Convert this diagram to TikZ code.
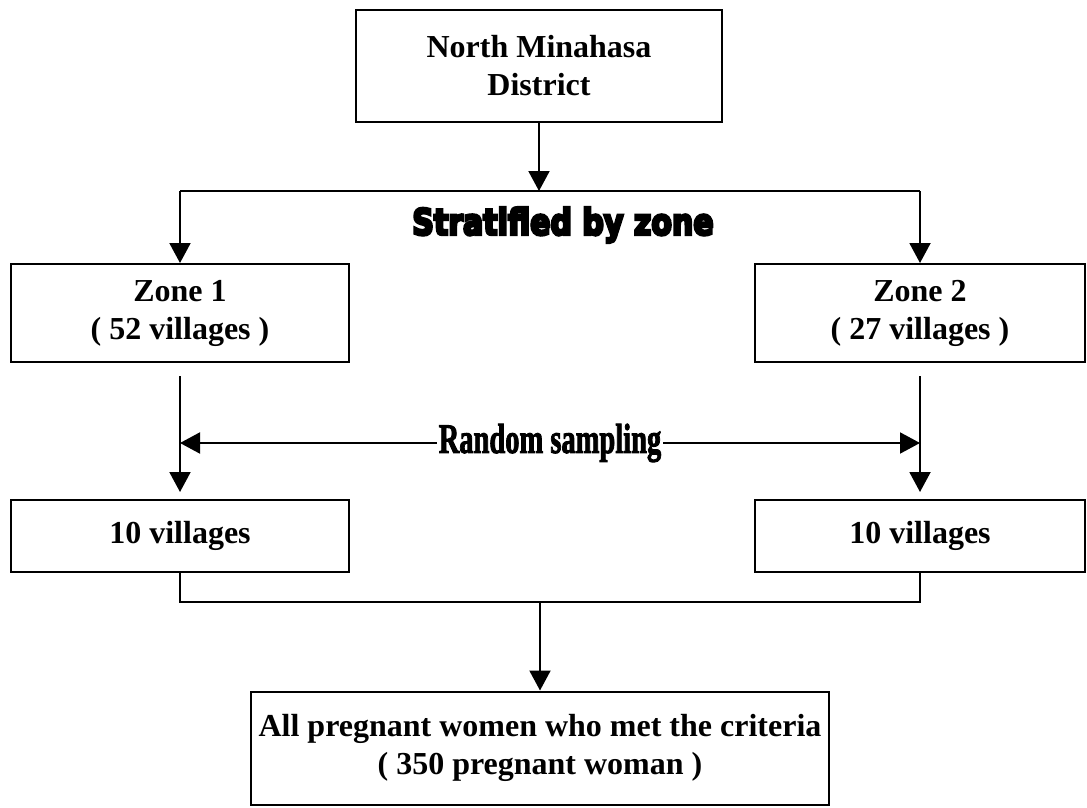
\documentclass[tikz,border=0pt]{standalone}
\usepackage{fontspec}
\setmainfont{Liberation Serif}
\newfontfamily\wordartfont[FakeBold=8]{DejaVu Sans}
\newfontfamily\randfont[FakeBold=2.5]{Liberation Serif}
\usetikzlibrary{arrows.meta,positioning}
\tikzset{%
    >={Triangle[width=21pt,length=20pt]},
    % Specifications for style of nodes:
    base/.style = {
        rectangle, draw=black, line width=2pt,
        inner sep=0pt, text centered, align=center,
        font=\fontsize{32}{38}\selectfont\bfseries
    },
    sidebox/.style = {base, minimum height=98},
    villbox/.style = {base, minimum height=72},
    stratlabel/.style = {
        inner sep=0pt, yscale=1.2, transform shape,
        font=\wordartfont\bfseries\fontsize{30}{30}\selectfont
    },
    randlabel/.style = {
        fill=white, inner sep=2pt, xscale=0.95, yscale=1.4, transform shape,
        font=\randfont\bfseries\fontsize{30}{30}\selectfont
    }
}

\begin{document}
\begin{tikzpicture}[x=1pt, y=-1pt, line width=2pt]
    \useasboundingbox (0,0) rectangle (1087,808);
    \node[base, minimum width=366, minimum height=112] (district) at (539,66) {North Minahasa\\District};
    \node[sidebox, minimum width=338] (zone1) at (180,313) {Zone 1\\( 52 villages )};
    \node[sidebox, minimum width=330] (zone2) at (920,313) {Zone 2\\( 27 villages )};
    \node[villbox, minimum width=338] (vil1) at (180,536) {10 villages};
    \node[villbox, minimum width=330] (vil2) at (920,536) {10 villages};
    \node[base, minimum width=578, minimum height=113] (women) at (540,748) {All pregnant women who met the criteria\\( 350 pregnant woman )};

    % stratified by zone
    \coordinate (split) at (539,191);
    \coordinate (splitl) at (180,191);
    \coordinate (splitr) at (920,191);
    \draw[->] (district) -- (split);
    \draw (splitl) -- (splitr);
    \draw[->] (splitl) -- (zone1);
    \draw[->] (splitr) -- (zone2);
    \node[stratlabel] (strat) at (563,225) {Stratified by zone};

    % random sampling
    \draw[->, shorten <=13pt, shorten >=7pt] (zone1) -- (vil1);
    \draw[->, shorten <=13pt, shorten >=7pt] (zone2) -- (vil2);
    \coordinate (randl) at (180,443);
    \coordinate (randr) at (920,443);
    \draw[<->] (randl) -- node[randlabel] (rand) {Random sampling} (randr);

    % join
    \coordinate (joinl) at (180,602);
    \coordinate (joinr) at (920,602);
    \coordinate (joinm) at (540,602);
    \draw (vil1) -- (joinl) -- (joinr) -- (vil2);
    \draw[->] (joinm) -- (women);
\end{tikzpicture}
\end{document}
